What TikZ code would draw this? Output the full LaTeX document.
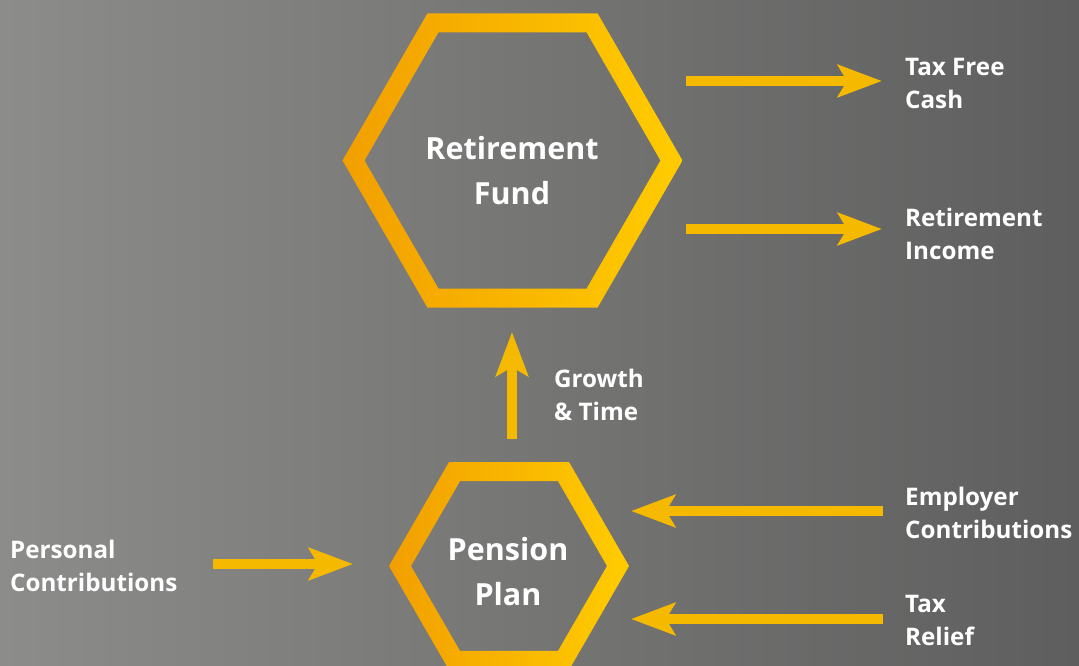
\documentclass[tikz,border=0pt]{standalone}
\usepackage{fontspec}
\setmainfont{Open Sans}
\usetikzlibrary{arrows.meta}
\definecolor{bgL}{HTML}{8C8C8A}
\definecolor{bgR}{HTML}{5E5E5E}
\definecolor{hexL}{HTML}{F29F00}
\definecolor{hexR}{HTML}{FFCC00}
\definecolor{arrC}{HTML}{F5B900}
\begin{document}
\begin{tikzpicture}[x=1pt,y=-1pt,
  flow/.style={line width=10.5pt, draw=arrC, -{Stealth[length=44pt,width=32pt,inset=9pt]}},
  biglabel/.style={text=white, inner sep=0pt, align=center, font=\bfseries\fontsize{30.5}{45}\selectfont},
  smalllabel/.style={text=white, inner sep=0pt, align=left, anchor=west, font=\bfseries\fontsize{24.2}{33}\selectfont},
  ring/.style={left color=hexL, right color=hexR, even odd rule}]
\useasboundingbox (0,0) rectangle (1079,666);
\shade[left color=bgL, right color=bgR] (0,0) rectangle (1079,666);
% hexagons
\begin{scope}[shift={(512.5,160.5)}]
\shade[ring] (0:170) -- (60:170) -- (120:170) -- (180:170) -- (240:170) -- (300:170) -- cycle
  (0:148) -- (60:148) -- (120:148) -- (180:148) -- (240:148) -- (300:148) -- cycle;
\end{scope}
\begin{scope}[shift={(509,566)}]
\shade[ring] (0:120) -- (60:120) -- (120:120) -- (180:120) -- (240:120) -- (300:120) -- cycle
  (0:98) -- (60:98) -- (120:98) -- (180:98) -- (240:98) -- (300:98) -- cycle;
\end{scope}
% labels
\node[biglabel] (rf) at (512,170.5) {Retirement\\Fund};
\node[biglabel] (pp) at (508,571.5) {Pension\\Plan};
\node[smalllabel] (tfc) at (905,83.5) {Tax Free\\Cash};
\node[smalllabel] (ri) at (905,233.5) {Retirement\\Income};
\node[smalllabel] (ec) at (905,512.5) {Employer\\Contributions};
\node[smalllabel] (tr) at (905,620.5) {Tax\\Relief};
\node[smalllabel] (pc) at (10,566) {Personal\\Contributions};
\node[smalllabel] (gt) at (554,395) {Growth\\\& Time};
% arrow end points
\coordinate (tfA) at (686,81);  \coordinate (tfB) at (882,81);
\coordinate (riA) at (686,229); \coordinate (riB) at (882,229);
\coordinate (gtA) at (512,439); \coordinate (gtB) at (512,332);
\coordinate (pcA) at (213,564); \coordinate (pcB) at (353,564);
\coordinate (ecA) at (883,511); \coordinate (ecB) at (631,511);
\coordinate (trA) at (883,619); \coordinate (trB) at (631,619);
\draw[flow] (tfA) -- (tfB);
\draw[flow] (riA) -- (riB);
\draw[flow] (gtA) -- (gtB);
\draw[flow] (pcA) -- (pcB);
\draw[flow] (ecA) -- (ecB);
\draw[flow] (trA) -- (trB);
\end{tikzpicture}
\end{document}
